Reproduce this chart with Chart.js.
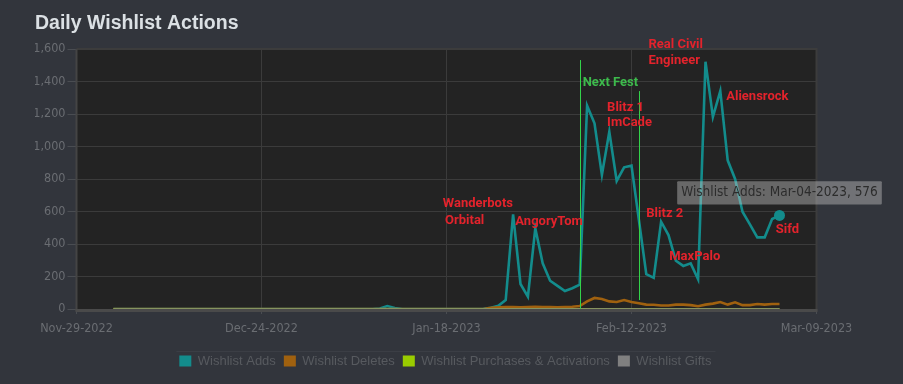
<!DOCTYPE html>
<html><head><meta charset="utf-8">
<script src="https://cdn.jsdelivr.net/npm/chart.js@4.4.0/dist/chart.umd.min.js"></script>
<style>html,body{margin:0;padding:0;background:#32353c;overflow:hidden}</style>
</head><body>
<canvas id="c" width="903" height="384"></canvas>
<script>
// ---------- data ----------
const axisStartDate = 'Nov-29-2022';
const firstDataDate = 'Dec-04-2022';
const xTickLabels = ['Nov-29-2022','Dec-24-2022','Jan-18-2023','Feb-12-2023','Mar-09-2023'];
const yTickValues = [0,200,400,600,800,1000,1200,1400,1600];
const seriesNames = ['Wishlist Adds','Wishlist Deletes','Wishlist Purchases & Activations','Wishlist Gifts'];

const wishlistAdds = [
 0,0,0,0,0,0,0,0,0,0, 0,0,0,0,0,0,0,0,0,0, 0,0,0,0,0,0,0,0,0,0, 0,0,0,0,0,0,
 3,18,6,0,
 0,0,0,0,0,0,0,0,0,0,
 2,8,20,55,583,154,76,497,281,174,142,111,128,150,
 1251,1143,825,1091,788,872,882,548,215,192,537,455,297,265,281,183,
 1522,1182,1342,915,800,599,521,441,441,554,576
];
const wishlistDeletes = [
 0,0,0,0,0,0,0,0,0,0, 0,0,0,0,0,0,0,0,0,0, 0,0,0,0,0,0,0,0,0,0,
 0,0,0,0,0,0,0,0,0,0, 0,0,0,0,0,0,0,0,0,0, 0,
 8,10,12,12,10,12,14,12,12,10,12,14,18,
 47,68,62,47,43,55,43,35,27,26,22,22,27,27,24,17,27,33,43,27,41,24,24,31,27,31,31
];
const wishlistPurchases = [
 0,0,0,0,0,0,0,0,0,0, 0,0,0,0,0,0,0,0,0,0, 0,0,0,0,0,0,0,0,0,0,
 0,0,0,0,0,0,0,0,0,0, 0,0,0,0,0,0,0,0,0,0, 0,0,0,0,0,0,0,0,0,0,
 0,0,0,0,0,0,0,0,0,0, 0,0,0,0,0,0,0,0,0,0, 0,0,0,0,0,0,0,0,0,0, 0
];
const wishlistGifts = [
 0,0,0,0,0,0,0,0,0,0, 0,0,0,0,0,0,0,0,0,0, 0,0,0,0,0,0,0,0,0,0,
 0,0,0,0,0,0,0,0,0,0, 0,0,0,0,0,0,0,0,0,0, 0,0,0,0,0,0,0,0,0,0,
 0,0,0,0,0,0,0,0,0,0, 0,0,0,0,0,0,0,0,0,0, 0,0,0,0,0,0,0,0,0,0, 0
];

// event markers and notes (in data units: day offset from axis start, value)
const eventLines = [ {day:68, from:0, to:1532}, {day:76, from:55, to:1341} ];
const notes = [
 {text:'Wanderbots', day:49.5, value:650, kind:'red'},
 {text:'Orbital', day:49.8, value:543, kind:'red'},
 {text:'AngoryTom', day:59.3, value:537, kind:'red'},
 {text:'Next Fest', day:68.4, value:1395, kind:'green'},
 {text:'Blitz 1', day:71.7, value:1241, kind:'red'},
 {text:'ImCade', day:71.7, value:1149, kind:'red'},
 {text:'Blitz 2', day:77.0, value:589, kind:'red'},
 {text:'MaxPalo', day:80.1, value:322, kind:'red'},
 {text:'Real Civil', day:77.3, value:1625, kind:'red'},
 {text:'Engineer', day:77.3, value:1528, kind:'red'},
 {text:'Aliensrock', day:87.8, value:1306, kind:'red'},
 {text:'Sifd', day:94.5, value:490, kind:'red'}
];

// ---------- helpers ----------
const MON = ['Jan','Feb','Mar','Apr','May','Jun','Jul','Aug','Sep','Oct','Nov','Dec'];
function parseD(s){ const [m,d,y] = s.split('-'); return Date.UTC(+y, MON.indexOf(m), +d); }
function fmtD(t){ const d = new Date(t); return MON[d.getUTCMonth()]+'-'+String(d.getUTCDate()).padStart(2,'0')+'-'+d.getUTCFullYear(); }
const DAY = 86400000;
const t0 = parseD(axisStartDate), t1 = parseD(firstDataDate);
const dates = wishlistAdds.map((_,i)=>fmtD(t1 + i*DAY));
const dayOf = s => Math.round((parseD(s)-t0)/DAY);
const pts = arr => arr.map((v,i)=>({x: dayOf(dates[i]), y: v}));
const lastIdx = wishlistAdds.length-1;

const COND = "'DejaVu Sans Condensed','DejaVu Sans',sans-serif";
const colors = ['#138c8c','#a0610f','#99cc00','#808080'];

const decor = {
  id:'decor',
  beforeDraw(chart){
    const {ctx, chartArea:a} = chart;
    ctx.save();
    ctx.fillStyle = '#32353c'; ctx.fillRect(0,0,chart.width,chart.height);
    ctx.fillStyle = '#232323'; ctx.fillRect(a.left,a.top,a.right-a.left,a.bottom-a.top);
    ctx.restore();
  },
  beforeDatasetsDraw(chart){
    const {ctx, chartArea:a} = chart;
    ctx.save();
    ctx.strokeStyle = '#3c3c3c'; ctx.lineWidth = 2;
    ctx.beginPath(); ctx.moveTo(a.left, a.top); ctx.lineTo(a.right, a.top); ctx.lineTo(a.right, a.bottom+2); ctx.stroke();
    ctx.strokeStyle = '#444444';
    ctx.beginPath(); ctx.moveTo(a.left, a.top); ctx.lineTo(a.left, a.bottom+2); ctx.stroke();
    ctx.fillStyle = '#4a4a4a'; ctx.fillRect(a.left-1, a.bottom, a.right-a.left+2, 3);
    ctx.restore();
  },
  afterDatasetsDraw(chart){
    const {ctx, scales:{x,y}} = chart;
    ctx.save();
    ctx.strokeStyle = '#33d24a'; ctx.lineWidth = 1;
    eventLines.forEach(l=>{
      const px = Math.round(x.getPixelForValue(l.day))+0.5;
      ctx.beginPath(); ctx.moveTo(px, y.getPixelForValue(l.to)); ctx.lineTo(px, y.getPixelForValue(l.from)); ctx.stroke();
    });
    ctx.font = 'bold 13px Roboto'; ctx.textBaseline = 'middle'; ctx.textAlign = 'left';
    notes.forEach(n=>{
      ctx.fillStyle = n.kind==='green' ? '#3dba4c' : '#e3232c';
      ctx.fillText(n.text, x.getPixelForValue(n.day), y.getPixelForValue(n.value));
    });
    ctx.restore();
  },
  afterDraw(chart){
    const lg = chart.legend; if(!lg || !lg.legendHitBoxes.length) return;
    const hb = lg.legendHitBoxes, f = hb[0], l = hb[hb.length-1];
    const {ctx} = chart;
    ctx.save(); ctx.strokeStyle = '#3b3e45'; ctx.lineWidth = 1;
    const yy = Math.round(f.top - 4)+0.5;
    ctx.beginPath(); ctx.moveTo(f.left-3, yy); ctx.lineTo(l.left+l.width+4, yy); ctx.stroke();
    ctx.restore();
  }
};

const seriesValues = [wishlistAdds, wishlistDeletes, wishlistPurchases, wishlistGifts];
const chart = new Chart(document.getElementById('c'), {
  type:'line',
  data:{
    datasets: seriesValues.map((vals,i)=>({
      label: seriesNames[i],
      data: pts(vals),
      borderColor: i===3 ? 'rgba(128,128,128,0.75)' : colors[i],
      backgroundColor: colors[i],
      borderWidth: i<2 ? 2.6 : 2,
      tension: 0,
      order: 4-i,
      pointRadius: i===0 ? (c=>c.dataIndex===lastIdx?5.5:0) : 0,
      pointHoverRadius: i===0 ? (c=>c.dataIndex===lastIdx?5.5:0) : 0,
      pointBackgroundColor: colors[i],
      pointBorderColor: colors[i],
      pointBorderWidth: 0,
      pointHoverBorderWidth: 0,
      fill:false
    }))
  },
  options:{
    responsive:false, animation:false, events:[],
    devicePixelRatio:1,
    layout:{padding:{left:35, right:47.2, top:0, bottom:6.5}},
    scales:{
      x:{type:'linear', min:0, max:100,
        ticks:{stepSize:25, autoSkip:false, maxRotation:0, color:'#6a6d72', padding:7,
          font:{family:COND, size:12.5},
          callback:v=>xTickLabels[Math.round(v/25)] ?? ''},
        grid:{color:'#3b3b3b', tickColor:'#4a4d52', tickLength:5},
        border:{display:false},
        afterFit:s=>{s.height=37.5;}
      },
      y:{type:'linear', min:0, max:1600,
        afterBuildTicks:s=>{s.ticks = yTickValues.map(v=>({value:v}));},
        ticks:{color:'#6a6d72', padding:2, font:{family:COND, size:12.5},
          callback:v=>v.toLocaleString('en-US')},
        grid:{color:'#3b3b3b', tickColor:'#4a4d52', tickLength:9},
        border:{display:false},
        afterFit:s=>{s.width=41.5;}
      },
      y2:{type:'linear', position:'right', display:true, min:0, max:1600,
        grid:{display:false}, ticks:{display:false}, border:{display:false},
        afterFit:s=>{s.width=39.3;}
      }
    },
    plugins:{
      title:{display:true, text:'Daily Wishlist Actions', align:'start', color:'#dbe0e4',
        font:{family:"'Liberation Sans',Arial,sans-serif", size:19.5, weight:'bold'},
        padding:{top:12, bottom:13.6}},
      legend:{position:'bottom',
        labels:{boxWidth:12, boxHeight:11, padding:8, color:'#575a5f',
          font:{family:"'Liberation Sans',Arial,sans-serif", size:13},
          generateLabels:ch=>ch.data.datasets.map((ds,i)=>({text:ds.label, fillStyle:colors[i], strokeStyle:colors[i], lineWidth:0, hidden:false, datasetIndex:i, fontColor:'#575a5f'}))}
      },
      tooltip:{enabled:true, displayColors:false,
        backgroundColor:'rgba(200,200,200,0.42)', bodyColor:'#2c2c2c',
        bodyFont:{family:COND, size:13.5}, padding:{x:4, y:3.5}, cornerRadius:1,
        caretSize:0, caretPadding:11, xAlign:'center', yAlign:'bottom',
        callbacks:{title:()=>[], label:c=>'Wishlist Adds: '+dates[c.dataIndex]+', '+c.parsed.y}
      }
    }
  },
  plugins:[decor]
});
const act = [{datasetIndex:0, index:lastIdx}];
const el = chart.getDatasetMeta(0).data[lastIdx];
chart.tooltip.setActiveElements(act, {x:el.x, y:el.y});
chart.update();
</script>
</body></html>
